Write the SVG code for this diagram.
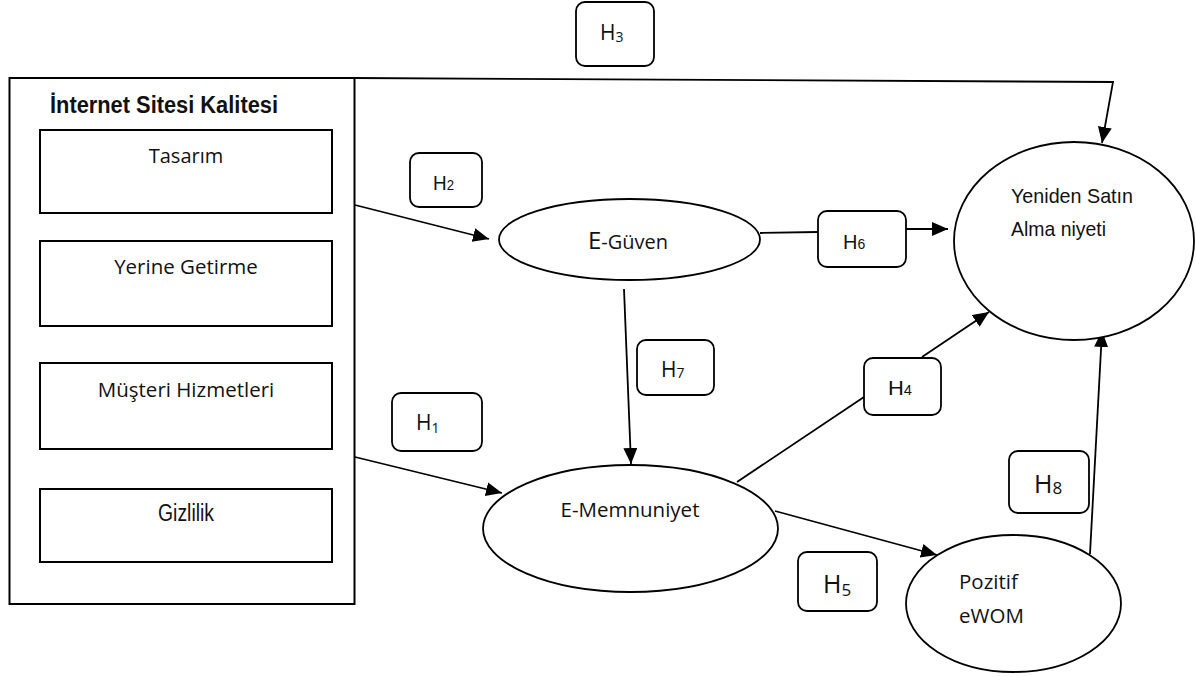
<svg xmlns="http://www.w3.org/2000/svg" width="1196" height="677" viewBox="0 0 1196 677">
<style>
  .box { fill: #fff; stroke: #000; stroke-width: 2; }
  .hbox { fill: #fff; stroke: #000; stroke-width: 1.8; }
  .ell { fill: #fff; stroke: #000; stroke-width: 1.8; }
  .con { fill: none; stroke: #000; stroke-width: 1.8; }
  .arr { marker-end: url(#ah); }
  .cal { font-family: "Open Sans", "Noto Sans", sans-serif; fill: #111; }
  .ari { font-family: "Liberation Sans", Arial, sans-serif; fill: #111; }
</style>
<defs>
  <marker id="ah" markerUnits="userSpaceOnUse" markerWidth="18" markerHeight="16" refX="16" refY="7" orient="auto">
    <path d="M0,0 L16,7 L0,14 z" fill="#000"/>
  </marker>
</defs>
<rect width="1196" height="677" fill="#fff"/>

<g id="connectors">
  <path id="c-h3" class="con arr" d="M354,78 L1113,82 L1102,143"/>
  <path id="c-h2" class="con arr" d="M355,205 L489,239"/>
  <path id="c-h1" class="con arr" d="M355,457 L502,493"/>
  <path id="c-h6a" class="con" d="M760,233 L818,232"/>
  <path id="c-h6b" class="con arr" d="M906,229 L948,229"/>
  <path id="c-h7" class="con arr" d="M624,289 L631,464"/>
  <path id="c-h4a" class="con" d="M737,482 L864,397"/>
  <path id="c-h4b" class="con arr" d="M922,357 L989,312"/>
  <path id="c-h5" class="con arr" d="M775,511 L937,555"/>
  <path id="c-h8" class="con arr" d="M1090,554 L1102,331"/>
</g>

<g id="internet-sitesi-kalitesi">
  <rect class="box" x="9.5" y="78" width="345" height="526"/>
  <text class="ari" x="50" y="113" font-size="23" font-weight="bold" textLength="228" lengthAdjust="spacingAndGlyphs">İnternet Sitesi Kalitesi</text>
</g>
<g id="tasarim">
  <rect class="box" x="40" y="130" width="292" height="83"/>
  <text class="cal" x="186" y="163" font-size="20" text-anchor="middle">Tasarım</text>
</g>
<g id="yerine-getirme">
  <rect class="box" x="40" y="241" width="292" height="85"/>
  <text class="cal" x="186" y="274" font-size="20.5" text-anchor="middle">Yerine Getirme</text>
</g>
<g id="musteri-hizmetleri">
  <rect class="box" x="40" y="363" width="292" height="86"/>
  <text class="cal" x="186" y="397" font-size="20.5" text-anchor="middle">Müşteri Hizmetleri</text>
</g>
<g id="gizlilik">
  <rect class="box" x="40" y="489" width="292" height="73"/>
  <text class="ari" x="158" y="521" font-size="23" textLength="56" lengthAdjust="spacingAndGlyphs">Gizlilik</text>
</g>

<g id="e-guven">
  <ellipse class="ell" cx="629.5" cy="239.5" rx="130.5" ry="40.5"/>
  <text class="cal" x="588" y="249"><tspan font-size="24">E</tspan><tspan font-size="20">-Güven</tspan></text>
</g>
<g id="e-memnuniyet">
  <ellipse class="ell" cx="630.5" cy="528.5" rx="147.5" ry="63.5"/>
  <text class="cal" x="630" y="517" font-size="20.5" text-anchor="middle">E-Memnuniyet</text>
</g>
<g id="yeniden-satin-alma">
  <ellipse class="ell" cx="1074" cy="241" rx="120" ry="99"/>
  <text class="ari" x="1011" y="203" font-size="21" textLength="122" lengthAdjust="spacingAndGlyphs">Yeniden Satın</text>
  <text class="ari" x="1011" y="236" font-size="21" textLength="95" lengthAdjust="spacingAndGlyphs">Alma niyeti</text>
</g>
<g id="pozitif-ewom">
  <ellipse class="ell" cx="1013.5" cy="603.5" rx="107.5" ry="68.5"/>
  <text class="cal" x="959" y="589" font-size="20.5">Pozitif</text>
  <text class="cal" x="959" y="623" font-size="20.5">eWOM</text>
</g>

<g id="h3">
  <rect class="hbox" x="576" y="2" width="78" height="64" rx="9"/>
  <text class="cal" x="600" y="40" font-size="21">H<tspan font-size="14" dy="2">3</tspan></text>
</g>
<g id="h2">
  <rect class="hbox" x="410" y="153" width="72" height="54" rx="9"/>
  <text class="ari" x="433" y="190" font-size="20" textLength="21" lengthAdjust="spacingAndGlyphs">H<tspan font-size="14">2</tspan></text>
</g>
<g id="h1">
  <rect class="hbox" x="392" y="393" width="90" height="58" rx="9"/>
  <text class="cal" x="416" y="430" font-size="21">H<tspan font-size="14" dy="3">1</tspan></text>
</g>
<g id="h6">
  <rect class="hbox" x="818" y="211" width="88" height="56" rx="9"/>
  <text class="ari" x="843" y="249" font-size="20">H<tspan font-size="14">6</tspan></text>
</g>
<g id="h7">
  <rect class="hbox" x="637" y="340" width="77" height="55" rx="9"/>
  <text class="cal" x="661" y="377" font-size="21">H<tspan font-size="14" dy="1">7</tspan></text>
</g>
<g id="h4">
  <rect class="hbox" x="864" y="358" width="77" height="57" rx="9"/>
  <text class="ari" x="888" y="395" font-size="21" textLength="24" lengthAdjust="spacingAndGlyphs">H<tspan font-size="14">4</tspan></text>
</g>
<g id="h8">
  <rect class="hbox" x="1009" y="451" width="80" height="62" rx="9"/>
  <text class="cal" x="1034" y="493" font-size="25">H<tspan font-size="17" dy="1">8</tspan></text>
</g>
<g id="h5">
  <rect class="hbox" x="798" y="552" width="79" height="59" rx="9"/>
  <text class="cal" x="823" y="593" font-size="25">H<tspan font-size="17" dy="3">5</tspan></text>
</g>
</svg>
